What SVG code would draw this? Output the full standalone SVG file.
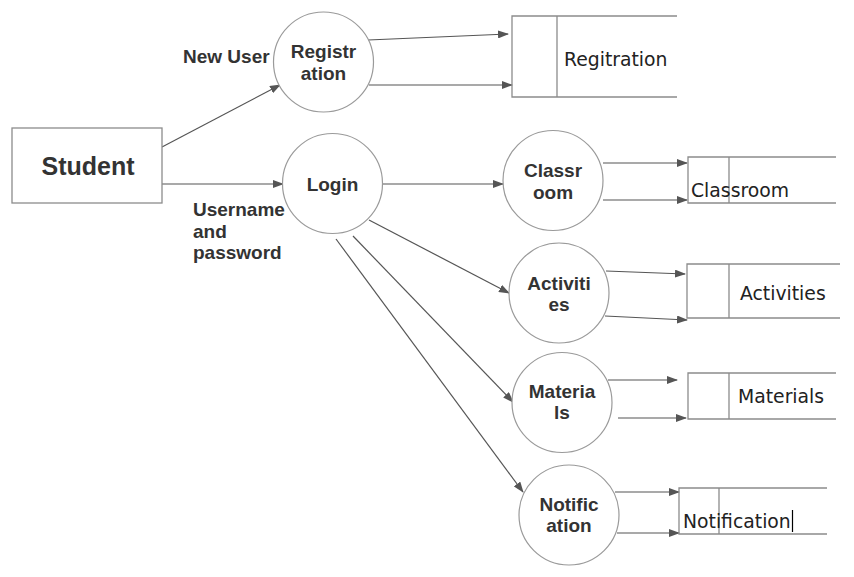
<svg xmlns="http://www.w3.org/2000/svg" width="854" height="577" viewBox="0 0 854 577">
<style>
.bg{fill:#fff}
.ent{fill:#fff;stroke:#8c8c8c;stroke-width:1.3}
.proc{fill:#fff;stroke:#9a9a9a;stroke-width:1.2}
.store{fill:none;stroke:#8c8c8c;stroke-width:1.3}
.b{font-family:"Liberation Sans",Arial,sans-serif;font-weight:bold;fill:#333;font-size:19px}
.pt{text-anchor:middle}
.st{font-family:"DejaVu Sans",Verdana,sans-serif;fill:#222;font-size:18.8px}
.cn{fill:none;stroke:#555;stroke-width:1.2;marker-end:url(#ah)}
</style>
<defs>
<marker id="ah" markerWidth="11" markerHeight="8" refX="10" refY="4" orient="auto" markerUnits="userSpaceOnUse">
<path d="M0,0 L11,4 L0,8 z" fill="#555"/>
</marker>
</defs>
<rect class="bg" x="0" y="0" width="854" height="577"/>

<g id="connectors">
<line class="cn" x1="162" y1="147" x2="280" y2="85"/>
<line class="cn" x1="162" y1="184" x2="283" y2="184"/>
<line class="cn" x1="368" y1="40" x2="508" y2="34"/>
<line class="cn" x1="369" y1="85" x2="512" y2="85"/>
<line class="cn" x1="382" y1="184" x2="503" y2="184"/>
<line class="cn" x1="603" y1="163" x2="687" y2="163"/>
<line class="cn" x1="603" y1="200" x2="687" y2="200"/>
<line class="cn" x1="369" y1="220" x2="509" y2="293"/>
<line class="cn" x1="353" y1="236" x2="513" y2="402"/>
<line class="cn" x1="336" y1="239" x2="523" y2="492"/>
<line class="cn" x1="606" y1="271" x2="685" y2="274"/>
<line class="cn" x1="605" y1="316" x2="687" y2="320"/>
<line class="cn" x1="608" y1="380" x2="677" y2="380"/>
<line class="cn" x1="618" y1="418" x2="686" y2="418"/>
<line class="cn" x1="615" y1="492" x2="679" y2="492"/>
<line class="cn" x1="617" y1="533" x2="679" y2="533"/>
</g>

<g id="student">
<rect class="ent" x="12" y="128" width="150" height="75"/>
<text class="b pt" x="88" y="175" style="font-size:25px">Student</text>
</g>

<g id="label-newuser"><text class="b" x="183" y="63">New User</text></g>
<g id="label-username">
<text class="b" x="193" y="216">Username</text>
<text class="b" x="193" y="238">and</text>
<text class="b" x="193" y="259">password</text>
</g>

<g id="p-registration">
<circle class="proc" cx="323.5" cy="62" r="50"/>
<text class="b pt" x="323.5" y="58">Registr</text>
<text class="b pt" x="323.5" y="80">ation</text>
</g>
<g id="p-login">
<circle class="proc" cx="332.5" cy="183.5" r="50"/>
<text class="b pt" x="332.5" y="191">Login</text>
</g>
<g id="p-classroom">
<circle class="proc" cx="553" cy="180.5" r="50"/>
<text class="b pt" x="553" y="177">Classr</text>
<text class="b pt" x="553" y="199">oom</text>
</g>
<g id="p-activities">
<circle class="proc" cx="559" cy="293" r="50"/>
<text class="b pt" x="559" y="290">Activiti</text>
<text class="b pt" x="559" y="311">es</text>
</g>
<g id="p-materials">
<circle class="proc" cx="562" cy="402.5" r="50"/>
<text class="b pt" x="562" y="398">Materia</text>
<text class="b pt" x="562" y="419">ls</text>
</g>
<g id="p-notification">
<circle class="proc" cx="569" cy="515" r="50"/>
<text class="b pt" x="569" y="511">Notific</text>
<text class="b pt" x="569" y="532">ation</text>
</g>

<g id="ds-registration">
<path class="store" d="M677,16 H512 V97 H677 M557,16 V97"/>
<text class="st" x="564" y="66">Regitration</text>
</g>
<g id="ds-classroom">
<path class="store" d="M836,157 H688 V203 H836 M729,157 V203"/>
<text class="st" x="691" y="197">Classroom</text>
</g>
<g id="ds-activities">
<path class="store" d="M840,264 H687 V318 H840 M729,264 V318"/>
<text class="st" x="740" y="300">Activities</text>
</g>
<g id="ds-materials">
<path class="store" d="M836,373 H688 V419 H836 M729,373 V419"/>
<text class="st" x="738" y="403">Materials</text>
</g>
<g id="ds-notification">
<path class="store" d="M827,488 H679 V534 H827 M719,488 V534"/>
<text class="st" x="683" y="528">Notification</text>
<line x1="792.5" y1="510" x2="792.5" y2="532" stroke="#000" stroke-width="1.2"/>
</g>
</svg>
